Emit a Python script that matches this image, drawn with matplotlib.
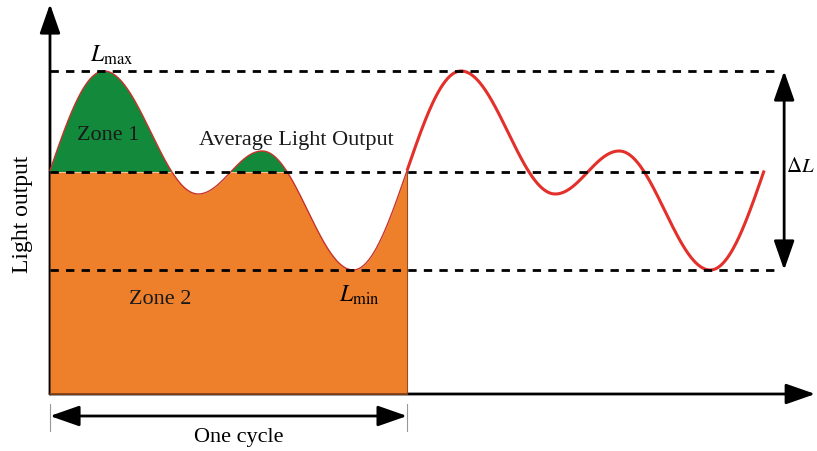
import numpy as np
import matplotlib.pyplot as plt
from matplotlib.patches import FancyArrowPatch

plt.rcParams['font.family'] = ['Liberation Serif', 'DejaVu Serif']
plt.rcParams['mathtext.fontset'] = 'stix'

# light levels (arbitrary units) and extrema of one flicker cycle
L_max = 3.23
L_avg = 2.22
L_min = 1.24
ext_t = [0.151, 0.415, 0.594, 0.849]   # time of each extremum, in cycles
ext_L = [L_max, 2.00, 2.43, L_min]     # light output at each extremum
n_cycles = 2.0


def waveform(t):
    # half-cosine segments joining successive extrema, repeated every cycle
    kt, kl = [], []
    for k in range(-1, 4):
        kt += [x + k for x in ext_t]
        kl += ext_L
    kt, kl = np.array(kt), np.array(kl)
    i = np.searchsorted(kt, t) - 1
    f = (t - kt[i]) / (kt[i + 1] - kt[i])
    return kl[i] + (kl[i + 1] - kl[i]) * (1 - np.cos(np.pi * f)) / 2


fig = plt.figure(figsize=(8.17, 4.52), dpi=100)
ax = fig.add_axes([0, 0, 1, 1])
ax.set_xlim(-0.140, 2.148)
ax.set_ylim(-0.57, 3.95)
ax.axis('off')

# first cycle: zone 2 below the average, zone 1 above it
t1 = np.linspace(0, 1, 600)
y1 = waveform(t1)
ax.fill_between(t1, 0, np.minimum(y1, L_avg), color='#EE802C', lw=0, zorder=2)
ax.fill_between(t1, L_avg, y1, where=y1 > L_avg, interpolate=True,
                color='#138A3B', lw=0, zorder=2)
ax.plot([1, 1], [0, waveform(np.array([1.0]))[0]], color='#9C4A1C', lw=0.8, zorder=3)
ax.plot([0, 1], [0, 0], color='#7A3A12', lw=1.2, zorder=3)
ax.plot(t1, y1, color='#C8332A', lw=1.0, zorder=3)

# remaining cycle
t2 = np.linspace(1, n_cycles, 600)
ax.plot(t2, waveform(t2), color='#E3302A', lw=2.2, solid_capstyle='butt', zorder=4)

# reference levels
dash = dict(color='black', lw=2.0, linestyle=(0, (3.0, 2.6)), zorder=5)
ax.plot([0, 2.03], [L_max, L_max], **dash)
ax.plot([0, 1.997], [L_avg, L_avg], **dash)
ax.plot([0, 2.03], [L_min, L_min], **dash)

# axes with arrow heads
arr = dict(arrowstyle='-|>,head_length=1.0,head_width=0.35', mutation_scale=18,
           color='black', lw=2.0, shrinkA=0, shrinkB=0)
ax.add_patch(FancyArrowPatch((0, 0), (0, 3.90), zorder=1, **arr))
ax.add_patch(FancyArrowPatch((0, 0), (2.143, 0), zorder=1, **arr))

# peak-to-peak and cycle markers
dbl = dict(arrowstyle='<|-|>,head_length=1.0,head_width=0.35', mutation_scale=18,
           color='black', lw=2.0, shrinkA=0, shrinkB=0, zorder=6)
ax.add_patch(FancyArrowPatch((2.056, L_min), (2.056, L_max), **dbl))
ax.add_patch(FancyArrowPatch((0, -0.22), (1, -0.22), **dbl))
ax.plot([0, 0], [-0.10, -0.37], color='#999999', lw=0.8)
ax.plot([1, 1], [-0.10, -0.37], color='#999999', lw=0.8)

fs = 16
ax.text(0.174, 3.40, r'$L_{\mathrm{max}}$', fontsize=fs + 1, ha='center', va='center')
ax.text(0.866, 1.00, r'$L_{\mathrm{min}}$', fontsize=fs + 1, ha='center', va='center')
ax.text(2.143, 2.27, r'$\Delta L$', fontsize=fs - 1, ha='right', va='center')
ax.text(0.162, 2.59, 'Zone 1', fontsize=fs, ha='center', va='center', color='#1a1a1a')
ax.text(0.308, 0.95, 'Zone 2', fontsize=fs, ha='center', va='center', color='#1a1a1a')
ax.text(0.689, 2.54, 'Average Light Output', fontsize=fs, ha='center', va='center',
        color='#1a1a1a')
ax.text(0.529, -0.43, 'One cycle', fontsize=fs, ha='center', va='center')
ax.text(-0.078, 1.81, 'Light output', fontsize=fs + 1, ha='center', va='center',
        rotation=90)

fig.savefig('out.png', dpi=100)
